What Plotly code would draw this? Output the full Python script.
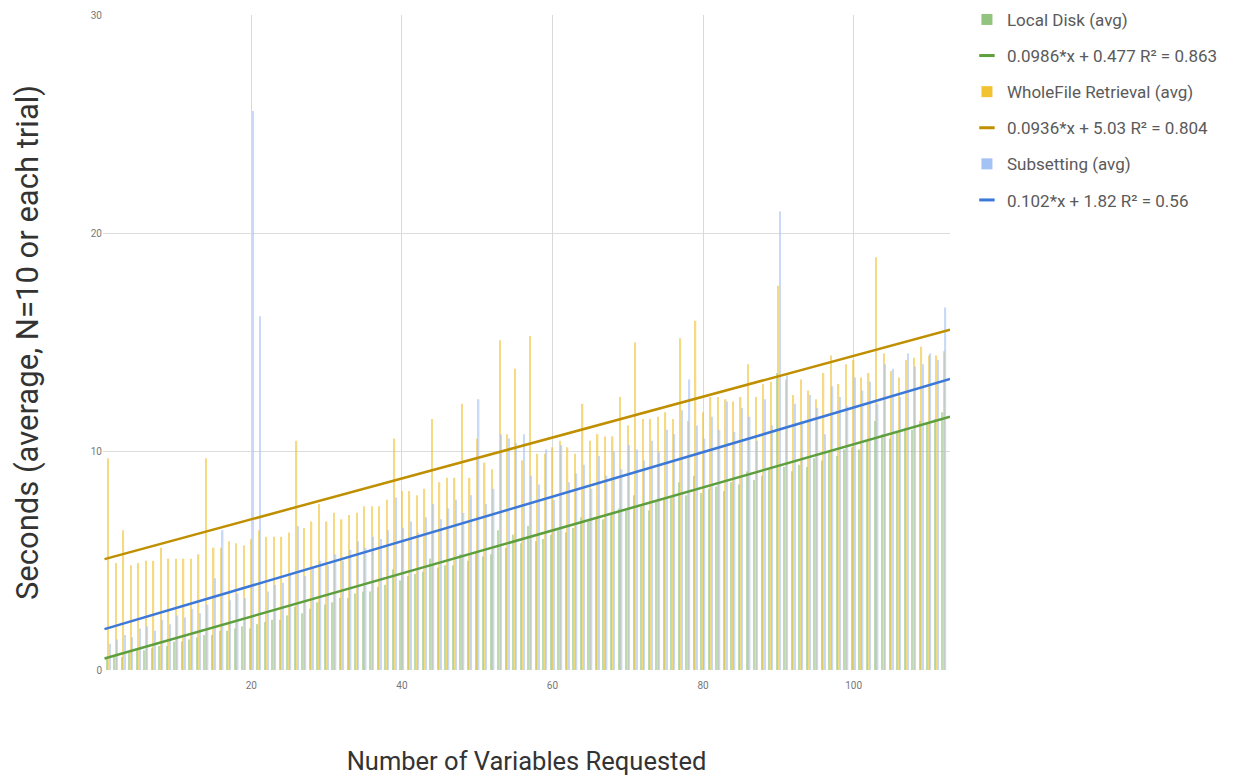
import plotly.graph_objects as go

variables = list(range(1, 113))

local_disk = [
    0.5, 0.6, 0.6, 0.8, 0.9, 0.9, 1.0, 1.1, 1.1, 1.3,
    1.3, 1.4, 1.5, 1.6, 1.6, 1.8, 1.8, 1.9, 2.0, 1.9,
    2.1, 2.2, 2.3, 2.3, 2.5, 2.9, 2.6, 2.8, 3.1, 3.0,
    3.1, 3.3, 3.3, 3.5, 3.6, 3.6, 3.8, 3.9, 4.6, 4.1,
    4.3, 4.4, 4.5, 5.1, 4.7, 4.8, 4.8, 5.3, 5.0, 5.4,
    5.2, 5.3, 6.4, 5.6, 6.2, 5.8, 6.6, 5.9, 6.0, 6.2,
    6.4, 6.3, 6.5, 7.0, 6.8, 7.0, 6.9, 7.1, 7.4, 7.3,
    8.0, 7.5, 7.3, 7.7, 7.8, 7.9, 8.6, 8.0, 8.9, 8.1,
    8.3, 8.4, 8.2, 8.6, 8.5, 9.1, 8.7, 8.9, 9.2, 13.6,
    9.3, 9.1, 9.4, 9.3, 9.7, 9.6, 10.0, 9.8, 10.1, 10.2,
    10.1, 10.5, 11.4, 10.8, 10.6, 10.9, 11.1, 11.0, 11.4, 11.3, 11.5, 11.8,
]

wholefile = [
    9.7, 4.9, 6.4, 4.8, 4.9, 5.0, 5.0, 5.6, 5.1, 5.1,
    5.1, 5.1, 5.3, 9.7, 5.6, 5.6, 5.9, 5.8, 5.7, 6.0,
    6.4, 6.1, 6.1, 6.1, 6.3, 10.5, 6.5, 6.8, 7.6, 6.8,
    7.2, 6.9, 7.1, 7.2, 7.5, 7.5, 7.5, 7.8, 10.6, 8.2,
    8.2, 8.0, 8.3, 11.5, 8.6, 8.8, 8.8, 12.2, 8.8, 10.6,
    9.5, 9.2, 15.1, 10.8, 13.8, 9.6, 15.3, 9.9, 9.9, 10.2,
    10.5, 10.2, 9.9, 12.2, 10.5, 10.8, 10.7, 10.7, 12.5, 11.2,
    15.0, 11.5, 11.5, 11.6, 11.8, 11.5, 15.2, 11.4, 16.0, 11.8,
    12.5, 12.5, 12.4, 12.3, 12.5, 14.0, 12.5, 13.1, 13.2, 17.6,
    13.3, 12.6, 13.3, 12.8, 12.4, 13.6, 14.4, 13.1, 14.0, 14.2,
    13.4, 13.6, 18.9, 14.5, 13.7, 13.4, 14.2, 14.3, 14.8, 14.4, 14.4, 14.6,
]

subsetting = [
    1.2, 1.4, 1.6, 1.5, 1.9, 2.0, 1.8, 2.3, 2.1, 2.5,
    2.4, 2.8, 2.6, 3.0, 4.2, 6.4, 3.2, 3.5, 3.3, 25.6,
    16.2, 3.6, 3.9, 4.0, 4.4, 6.6, 4.3, 4.7, 5.0, 4.8,
    5.3, 5.0, 5.5, 5.9, 5.6, 6.1, 6.0, 6.4, 7.9, 6.5,
    6.8, 6.3, 7.0, 7.6, 6.9, 7.4, 7.8, 7.2, 8.0, 12.4,
    7.6, 8.3, 10.8, 10.6, 10.4, 10.8, 8.9, 8.5, 10.1, 7.8,
    10.3, 8.6, 9.0, 9.4, 8.3, 9.8, 8.9, 10.0, 9.2, 10.3,
    10.1, 9.6, 10.5, 10.0, 11.0, 10.8, 11.9, 13.3, 11.2, 10.6,
    11.6, 11.0, 12.3, 10.9, 12.0, 11.6, 10.5, 12.4, 11.2, 21.0,
    13.5, 12.2, 11.4, 12.6, 12.0, 10.8, 13.0, 12.5, 12.1, 13.4,
    12.8, 13.2, 12.2, 14.0, 13.8, 12.5, 14.5, 13.9, 14.0, 14.5, 14.2, 16.6,
]

# Trendline coefficients (slope, intercept) as shown in the legend
trend_local = [0.0986, 0.477]
trend_whole = [0.0936, 5.03]
trend_subset = [0.102, 1.82]
trend_x = [0.5, 112.8]

trend_names = [
    "0.0986*x + 0.477 R² = 0.863",
    "0.0936*x + 5.03 R² = 0.804",
    "0.102*x + 1.82 R² = 0.56",
]
bar_names = ["Local Disk (avg)", "WholeFile Retrieval (avg)", "Subsetting (avg)"]

bar_colors = ["#93c47d", "#f1c232", "#a4c2f4"]
line_colors = ["#5d9f3c", "#bf8f00", "#3c78d8"]

fig = go.Figure()
series = [local_disk, wholefile, subsetting]
trends = [trend_local, trend_whole, trend_subset]

for i in range(3):
    fig.add_trace(go.Bar(
        x=variables, y=series[i], name=bar_names[i], showlegend=False,
        marker=dict(color=bar_colors[i], line=dict(width=0)),
        opacity=0.6,
    ))

for i in range(3):
    m, b = trends[i]
    ty = [m * xv + b for xv in trend_x]
    fig.add_trace(go.Scatter(
        x=trend_x, y=ty, mode="lines", showlegend=False,
        line=dict(color=line_colors[i], width=2.5),
        hoverinfo="skip",
    ))

# legend entries
for i in range(3):
    fig.add_trace(go.Scatter(
        x=[None], y=[None], mode="markers", name=bar_names[i],
        marker=dict(symbol="square", size=11, color=bar_colors[i]),
        legendgroup=f"b{i}", legendrank=10 * i + 1,
    ))
    fig.add_trace(go.Scatter(
        x=[None], y=[None], mode="markers", name=trend_names[i],
        marker=dict(symbol="line-ew-open", size=11, color=line_colors[i],
                    line=dict(color=line_colors[i], width=3)),
        legendgroup=f"t{i}", legendrank=10 * i + 2,
    ))

fig.update_layout(
    width=1233, height=776,
    margin=dict(l=103, r=283, t=15, b=106, autoexpand=False),
    paper_bgcolor="white", plot_bgcolor="white",
    barmode="group", bargap=0.42, bargroupgap=0,
    font=dict(family="Roboto, Arial, sans-serif", color="#444"),
    showlegend=True,
    legend=dict(
        x=1.02, xanchor="left", y=1.02, yanchor="top",
        font=dict(size=17, color="#5a5a5a"),
        traceorder="grouped", tracegroupgap=11,
        itemwidth=30,
    ),
    xaxis=dict(
        range=[0.3, 112.8], tickvals=[20, 40, 60, 80, 100],
        showgrid=True, gridcolor="#d9d9d9", gridwidth=1,
        zeroline=False, showline=False, ticks="", automargin=False,
        tickfont=dict(size=10, color="#777"), ticklabelstandoff=8,
        title=dict(text="Number of Variables Requested",
                   font=dict(size=25.5, color="#333"), standoff=62),
    ),
    yaxis=dict(
        range=[0, 30], tickvals=[0, 10, 20, 30],
        showgrid=True, gridcolor="#dcdcdc", gridwidth=1,
        zeroline=False, showline=False, ticks="", automargin=False,
        tickfont=dict(size=10, color="#777"),
        title=dict(text="Seconds (average, N=10 or each trial)",
                   font=dict(size=31, color="#333"), standoff=42),
    ),
)

fig.write_html("out.html")
